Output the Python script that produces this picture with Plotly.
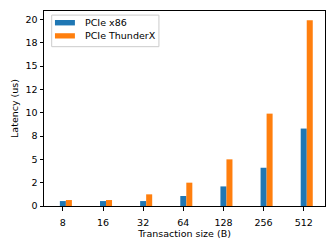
import plotly.graph_objects as go

sizes = ["8", "16", "32", "64", "128", "256", "512"]
x86 = [0.53, 0.53, 0.53, 1.07, 2.1, 4.1, 8.3]
thunderx = [0.64, 0.64, 1.25, 2.5, 5.0, 9.9, 19.9]
ytick_vals = [0, 2.5, 5, 7.5, 10, 12.5, 15, 17.5, 20]
ytick_text = ["0", "2", "5", "8", "10", "12", "15", "18", "20"]
series_names = ["PCIe x86", "PCIe ThunderX"]
colors = ["#1f77b4", "#ff7f0e"]

width = 0.15
idx = list(range(len(sizes)))

fig = go.Figure()
fig.add_trace(go.Bar(x=idx, y=x86, width=width, name=series_names[0],
                     marker=dict(color=colors[0], line=dict(width=0))))
fig.add_trace(go.Bar(x=[i + width for i in idx], y=thunderx, width=width,
                     name=series_names[1],
                     marker=dict(color=colors[1], line=dict(width=0))))

font = dict(family="DejaVu Sans", size=9.5, color="black")

# matplotlib-style legend drawn with shapes / annotations
shapes = [dict(type="rect", xref="paper", yref="paper",
               x0=0.0274, x1=0.409, y0=0.817, y1=0.979,
               line=dict(color="#cccccc", width=1),
               fillcolor="rgba(255,255,255,0.8)", layer="above")]
annotations = []
rows = [(0.926, 0.954, 0.940), (0.859, 0.886, 0.872)]
for (y0, y1, yt), name, col in zip(rows, series_names, colors):
    shapes.append(dict(type="rect", xref="paper", yref="paper",
                       x0=0.039, x1=0.110, y0=y0, y1=y1,
                       line=dict(width=0), fillcolor=col, layer="above"))
    annotations.append(dict(xref="paper", yref="paper", x=0.140, y=yt,
                            xanchor="left", yanchor="middle", text=name,
                            showarrow=False, font=font))

fig.update_layout(
    width=335, height=251,
    margin=dict(l=44, r=10, t=11, b=45),
    plot_bgcolor="white", paper_bgcolor="white",
    font=font,
    barmode="overlay",
    showlegend=False,
    shapes=shapes,
    annotations=annotations,
    xaxis=dict(range=[-0.47, 6.53], tickvals=idx, ticktext=sizes,
               showline=True, linecolor="black", linewidth=1, mirror=True,
               ticks="outside", ticklen=3.5, tickcolor="black",
               ticklabelstandoff=4,
               showgrid=False, zeroline=False, tickfont=font,
               title=dict(text="Transaction size (B)", font=font, standoff=3)),
    yaxis=dict(range=[0, 20.9], tickvals=ytick_vals, ticktext=ytick_text,
               showline=True, linecolor="black", linewidth=1, mirror=True,
               ticks="outside", ticklen=3.5, tickcolor="black",
               showgrid=False, zeroline=False, tickfont=font,
               title=dict(text="Latency (us)", font=font, standoff=5)),
)

fig.write_html("out.html",
               config={"displayModeBar": False},
               post_script="document.body.style.margin='0';"
                           "document.body.style.overflow='hidden';")
